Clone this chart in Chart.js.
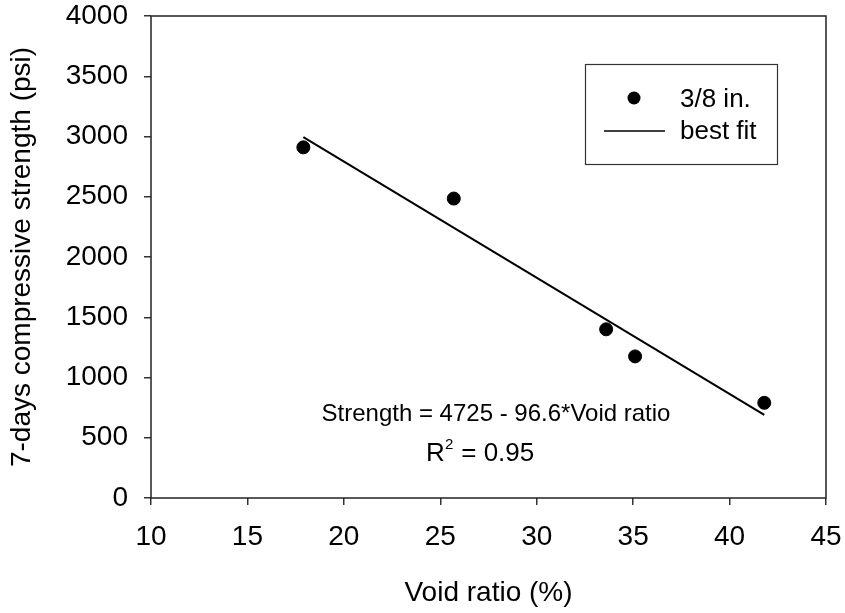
<!DOCTYPE html>
<html>
<head>
<meta charset="utf-8">
<script src="https://cdn.jsdelivr.net/npm/chart.js@4/dist/chart.umd.min.js"></script>
<style>
  html, body { margin: 0; padding: 0; background: #fff; }
  #wrap { width: 845px; height: 613px; }
</style>
</head>
<body>
<div id="wrap"><canvas id="chart" width="845" height="613"></canvas></div>
<script>
// measured points (3/8 in. aggregate)
const voidRatio = [17.9, 25.7, 33.6, 35.1, 41.8];
const strength = [2910, 2485, 1400, 1175, 790];

// best fit line ends
const fitX = [17.9, 41.8];
const fitY = [2995, 690];

const xTicks = [10, 15, 20, 25, 30, 35, 40, 45];
const yTicks = [0, 500, 1000, 1500, 2000, 2500, 3000, 3500, 4000];

const seriesLabel = '3/8 in.';
const fitLabel = 'best fit';
const equationText = 'Strength = 4725 - 96.6*Void ratio';
const r2Value = '0.95';

const FONT = 'Arial, "Liberation Sans", sans-serif';

const frame = {
  id: 'frame',
  afterDraw(chart) {
    const {ctx, chartArea: a} = chart;
    ctx.save();
    ctx.strokeStyle = '#222';
    ctx.lineWidth = 1.5;
    ctx.strokeRect(a.left, a.top, a.right - a.left, a.bottom - a.top);

    // legend box
    ctx.lineWidth = 1.2;
    ctx.strokeStyle = '#333';
    ctx.strokeRect(585.5, 64.5, 192, 100);
    ctx.fillStyle = '#000';
    ctx.beginPath();
    ctx.arc(634, 98, 6.5, 0, Math.PI * 2);
    ctx.fill();
    ctx.lineWidth = 1.5;
    ctx.strokeStyle = '#000';
    ctx.beginPath();
    ctx.moveTo(604, 131);
    ctx.lineTo(665, 131);
    ctx.stroke();
    ctx.font = '26px ' + FONT;
    ctx.textBaseline = 'alphabetic';
    ctx.textAlign = 'left';
    ctx.fillText(seriesLabel, 680, 107);
    ctx.fillText(fitLabel, 680, 139);

    // regression annotation
    ctx.font = '24px ' + FONT;
    ctx.textAlign = 'center';
    ctx.fillText(equationText, 496, 421);
    ctx.textAlign = 'left';
    ctx.font = '26px ' + FONT;
    ctx.fillText('R', 426, 461);
    ctx.font = '15px ' + FONT;
    ctx.fillText('2', 445, 449);
    ctx.font = '26px ' + FONT;
    ctx.fillText(' = ' + r2Value, 454, 461);
    ctx.restore();
  }
};

new Chart(document.getElementById('chart'), {
  type: 'scatter',
  data: {
    datasets: [
      {
        label: seriesLabel,
        data: voidRatio.map((v, i) => ({x: v, y: strength[i]})),
        backgroundColor: '#000',
        borderColor: '#000',
        pointRadius: 6.5,
        pointHoverRadius: 6.5
      },
      {
        label: fitLabel,
        type: 'line',
        data: fitX.map((v, i) => ({x: v, y: fitY[i]})),
        borderColor: '#000',
        borderWidth: 2,
        pointRadius: 0,
        fill: false
      }
    ]
  },
  options: {
    responsive: false,
    animation: false,
    layout: { padding: { top: 16, right: 19, left: 0, bottom: 0 } },
    plugins: {
      legend: { display: false },
      tooltip: { enabled: false }
    },
    scales: {
      x: {
        type: 'linear',
        min: 10,
        max: 45,
        afterFit(s) { s.height = 115; s.paddingLeft = 0; s.paddingRight = 0; },
        afterBuildTicks(s) { s.ticks = xTicks.map(v => ({value: v})); },
        grid: { drawOnChartArea: false, tickLength: 7, color: '#333', lineWidth: 1.5 },
        border: { display: false },
        ticks: { color: '#000', padding: 15, font: { family: FONT, size: 28 }, maxRotation: 0,
                 callback: v => String(v) },
        title: {
          display: true,
          text: 'Void ratio (%)',
          color: '#000',
          font: { family: FONT, size: 28 },
          padding: { top: 0, bottom: 2.6 }
        }
      },
      y: {
        min: 0,
        max: 4000,
        afterFit(s) { s.width = 151; s.paddingTop = 0; s.paddingBottom = 0; },
        afterBuildTicks(s) { s.ticks = yTicks.map(v => ({value: v})); },
        grid: { drawOnChartArea: false, tickLength: 7, color: '#333', lineWidth: 1.5 },
        border: { display: false },
        ticks: { color: '#000', padding: 16, font: { family: FONT, size: 28 },
                 callback: v => String(v) },
        title: {
          display: true,
          text: '7-days compressive strength (psi)',
          color: '#000',
          font: { family: FONT, size: 28 },
          padding: { top: 5.5, bottom: 0 }
        }
      }
    }
  },
  plugins: [frame]
});
</script>
</body>
</html>
